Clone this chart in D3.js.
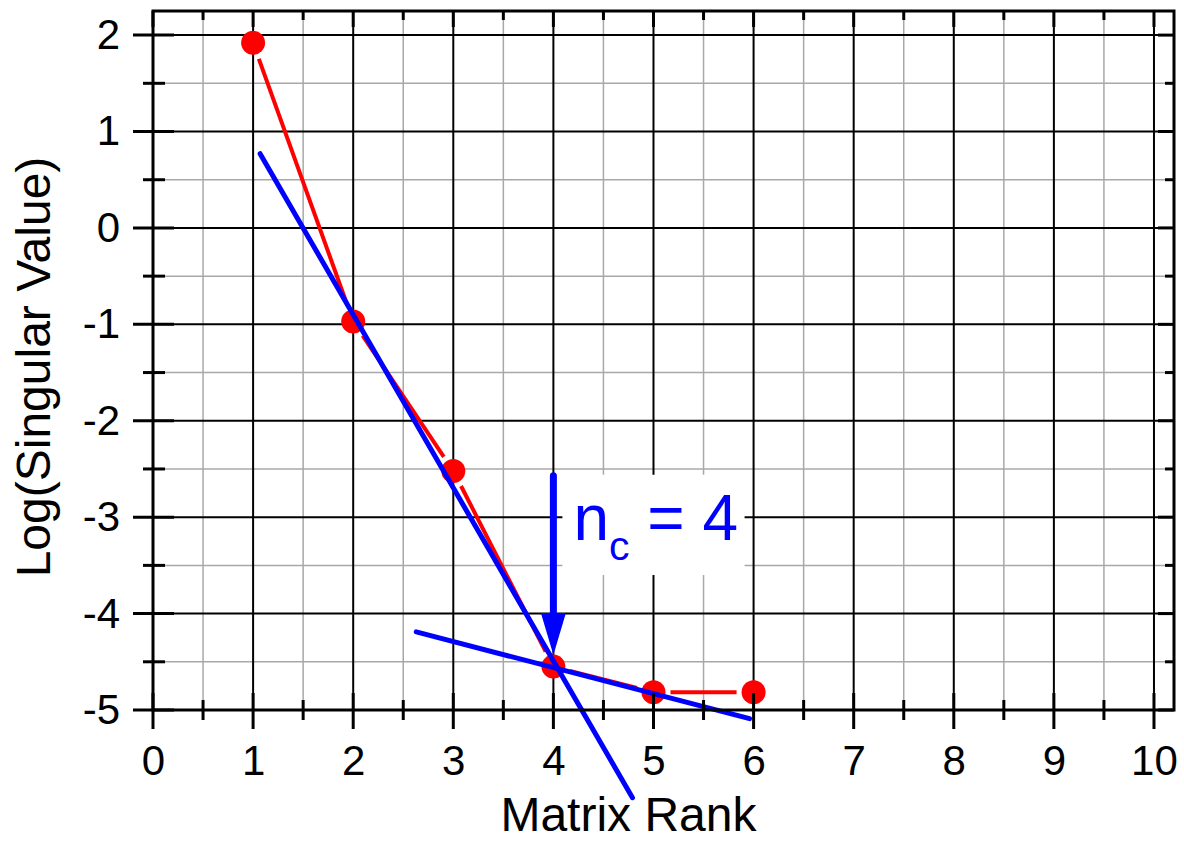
<!DOCTYPE html>
<html>
<head>
<meta charset="UTF-8">
<title>Singular value rank plot</title>
<script src="https://d3js.org/d3.v7.min.js"></script>
<style>
  body { margin:0; background:#fff; }
  text { font-family: "Liberation Sans", Arial, sans-serif; }
</style>
</head>
<body>
<div id="chart"></div>
<script>
// data
const ranks = [1, 2, 3, 4, 5, 6];
const logSV = [1.92, -0.97, -2.52, -4.55, -4.815, -4.815];

// the two fitted straight lines (end points)
const steepX = [1.07, 4.79], steepY = [0.77, -5.91];
const flatX = [2.63, 5.96], flatY = [-4.19, -5.09];

// arrow + label
const arrowX = 4, arrowFrom = -2.57, arrowTo = -4.43;
const labelMain = 'n', labelSub = 'c', labelRest = ' = 4';

const xMajor = d3.range(0, 11);
const xMinor = d3.range(0.5, 10.5, 1);
const yMajor = d3.range(-5, 3);
const yMinor = d3.range(-4.5, 2, 1);

const W = 1184, H = 842;
const margin = {top:11, right:10, bottom:132, left:153};
const width = W - margin.left - margin.right,
      height = H - margin.top - margin.bottom;

const svg = d3.select('#chart').append('svg')
  .attr('width', W).attr('height', H);
const g = svg.append('g').attr('transform', `translate(${margin.left},${margin.top})`);

const x = d3.scaleLinear().domain([0, 10.2]).range([0, width]);
const y = d3.scaleLinear().domain([-5, 2.25]).range([height, 0]);

// grid
const grid = g.append('g');
grid.selectAll('line.xmin').data(xMinor).enter().append('line')
  .attr('x1', d=>x(d)).attr('x2', d=>x(d)).attr('y1', 0).attr('y2', height)
  .attr('stroke', '#a8a8a8').attr('stroke-width', 1.5);
grid.selectAll('line.ymin').data(yMinor).enter().append('line')
  .attr('y1', d=>y(d)).attr('y2', d=>y(d)).attr('x1', 0).attr('x2', width)
  .attr('stroke', '#a8a8a8').attr('stroke-width', 1.5);
grid.selectAll('line.xmaj').data(xMajor.slice(1)).enter().append('line')
  .attr('x1', d=>x(d)).attr('x2', d=>x(d)).attr('y1', 0).attr('y2', height)
  .attr('stroke', '#000').attr('stroke-width', 2);
grid.selectAll('line.ymaj').data(yMajor.slice(1)).enter().append('line')
  .attr('y1', d=>y(d)).attr('y2', d=>y(d)).attr('x1', 0).attr('x2', width)
  .attr('stroke', '#000').attr('stroke-width', 2);

// white box behind the label
const bx0 = 4.09, bx1 = 5.91, by0 = -2.56, by1 = -3.6;
g.append('rect')
  .attr('x', x(bx0)).attr('y', y(by0))
  .attr('width', x(bx1) - x(bx0)).attr('height', y(by1) - y(by0))
  .attr('fill', '#fff');

// red connecting segments with gaps near the markers
const gap = 17;
const pts = ranks.map((r,i) => [x(r), y(logSV[i])]);
const segs = [];
for(let i=0;i<pts.length-1;i++){
  const [x1,y1] = pts[i], [x2,y2] = pts[i+1];
  const len = Math.hypot(x2-x1, y2-y1);
  const ux = (x2-x1)/len, uy = (y2-y1)/len;
  segs.push([x1+ux*gap, y1+uy*gap, x2-ux*gap, y2-uy*gap]);
}
g.selectAll('line.seg').data(segs).enter().append('line')
  .attr('x1', d=>d[0]).attr('y1', d=>d[1]).attr('x2', d=>d[2]).attr('y2', d=>d[3])
  .attr('stroke', '#ff0000').attr('stroke-width', 4);

g.selectAll('circle.pt').data(ranks).enter().append('circle')
  .attr('cx', d=>x(d)).attr('cy', (d,i)=>y(logSV[i]))
  .attr('r', 12).attr('fill', '#ff0000');

// fitted blue lines
const fitLine = d3.line().x(d=>x(d[0])).y(d=>y(d[1]));
[[steepX, steepY], [flatX, flatY]].forEach(([xs, ys]) => {
  g.append('path')
    .datum(xs.map((v,i)=>[v, ys[i]]))
    .attr('d', fitLine)
    .attr('fill', 'none').attr('stroke', '#0000ff')
    .attr('stroke-width', 5).attr('stroke-linecap', 'round');
});

// arrow
const headLen = 42, headW = 25;
g.append('line')
  .attr('x1', x(arrowX)).attr('x2', x(arrowX))
  .attr('y1', y(arrowFrom)).attr('y2', y(arrowTo) - headLen + 2)
  .attr('stroke', '#0000ff').attr('stroke-width', 7).attr('stroke-linecap', 'round');
const tipX = x(arrowX), tipY = y(arrowTo);
g.append('path')
  .attr('d', `M${tipX},${tipY} L${tipX-headW/2},${tipY-headLen} L${tipX+headW/2},${tipY-headLen} Z`)
  .attr('fill', '#0000ff');

// label
const lab = g.append('text')
  .attr('x', x(4.2)).attr('y', y(-3.24))
  .attr('fill', '#0000ff').attr('font-size', 64);
lab.append('tspan').text(labelMain);
lab.append('tspan').attr('font-size', 41).attr('dy', 20).text(labelSub);
lab.append('tspan').attr('dy', -20).text(labelRest);

// frame
g.append('rect').attr('width', width).attr('height', height)
  .attr('fill', 'none').attr('stroke', '#000').attr('stroke-width', 3);

// ticks
const tk = g.append('g').attr('stroke', '#000').attr('stroke-width', 3);
tk.selectAll('line.bmaj').data(xMajor).enter().append('line')
  .attr('x1', d=>x(d)).attr('x2', d=>x(d)).attr('y1', height-17).attr('y2', height+19);
tk.selectAll('line.bmin').data(xMinor).enter().append('line')
  .attr('x1', d=>x(d)).attr('x2', d=>x(d)).attr('y1', height-10).attr('y2', height+10);
tk.selectAll('line.tmaj').data(xMajor).enter().append('line')
  .attr('x1', d=>x(d)).attr('x2', d=>x(d)).attr('y1', 0).attr('y2', 16);
tk.selectAll('line.tmin').data(xMinor).enter().append('line')
  .attr('x1', d=>x(d)).attr('x2', d=>x(d)).attr('y1', 0).attr('y2', 9);
tk.selectAll('line.lmaj').data(yMajor).enter().append('line')
  .attr('y1', d=>y(d)).attr('y2', d=>y(d)).attr('x1', -20).attr('x2', 21);
tk.selectAll('line.lmin').data(yMinor).enter().append('line')
  .attr('y1', d=>y(d)).attr('y2', d=>y(d)).attr('x1', -10).attr('x2', 12);
tk.selectAll('line.rmaj').data(yMajor).enter().append('line')
  .attr('y1', d=>y(d)).attr('y2', d=>y(d)).attr('x1', width-16).attr('x2', width);
tk.selectAll('line.rmin').data(yMinor).enter().append('line')
  .attr('y1', d=>y(d)).attr('y2', d=>y(d)).attr('x1', width-9).attr('x2', width);

// tick labels through d3 axes (plain hyphen minus like the original)
const fmt = d => String(d);
const xAx = g.append('g').attr('transform', `translate(0,${height})`)
  .call(d3.axisBottom(x).tickValues(xMajor).tickSize(0).tickPadding(35).tickFormat(fmt));
const yAx = g.append('g')
  .call(d3.axisLeft(y).tickValues(yMajor).tickSize(0).tickPadding(33).tickFormat(fmt));
[xAx, yAx].forEach(a => {
  a.select('.domain').remove();
  a.attr('font-size', 42).attr('font-family', null);
  a.selectAll('text').attr('fill', '#000');
});

// axis titles
svg.append('text').attr('x', margin.left + x(4.75)).attr('y', 831)
  .attr('text-anchor', 'middle').attr('font-size', 48).text('Matrix Rank');
svg.append('text').attr('transform', 'translate(50,367) rotate(-90)')
  .attr('text-anchor', 'middle').attr('font-size', 48).text('Log(Singular Value)');
</script>
</body>
</html>
